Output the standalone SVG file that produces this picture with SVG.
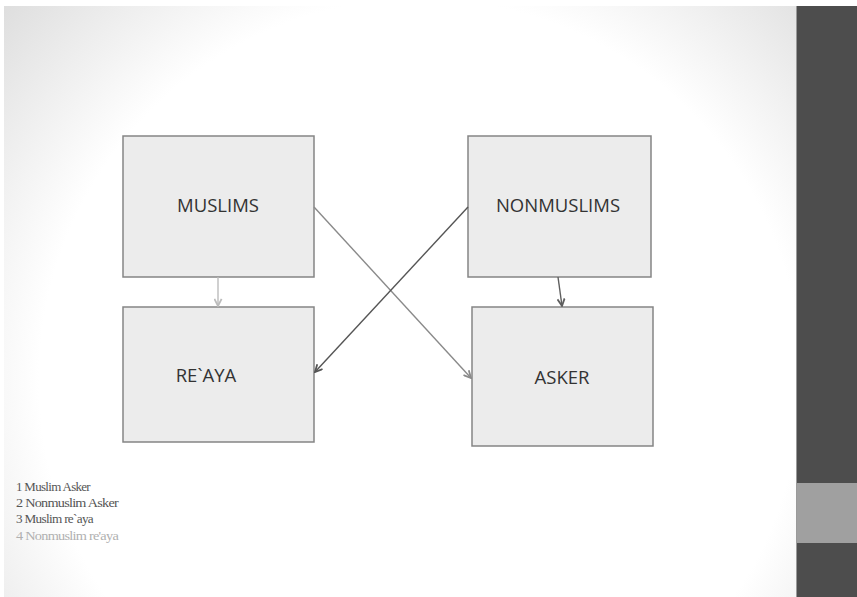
<svg xmlns="http://www.w3.org/2000/svg" width="857" height="597" viewBox="0 0 857 597">
<defs>
<radialGradient id="bg" cx="420" cy="380" r="560" gradientUnits="userSpaceOnUse">
<stop offset="0" stop-color="#ffffff"/>
<stop offset="0.68" stop-color="#ffffff"/>
<stop offset="1" stop-color="#dedede"/>
</radialGradient>
<marker id="ah" viewBox="0 0 10 10" refX="9" refY="5" markerWidth="9" markerHeight="9" markerUnits="userSpaceOnUse" orient="auto">
<path d="M1,1 L9,5 L1,9" fill="none" stroke="context-stroke" stroke-width="2"/>
</marker>
</defs>
<style>
.box{fill:#ececec;stroke:#858585;stroke-width:1.5}
.lbl{font-family:"Open Sans","Liberation Sans",sans-serif;font-size:18.5px;fill:#333;text-anchor:middle}
.leg{font-family:"Liberation Serif",serif;font-size:11.5px;fill:#555;letter-spacing:-0.6px}
.c{fill:none;stroke-width:1.4;marker-end:url(#ah)}
</style>
<rect x="0" y="0" width="857" height="597" fill="#ffffff"/>
<rect x="4" y="6" width="792" height="591" fill="url(#bg)"/>
<rect x="796" y="6" width="61" height="591" fill="#4d4d4d"/>
<rect x="796" y="483" width="61" height="60" fill="#a0a0a0"/>
<line x1="796.5" y1="6" x2="796.5" y2="597" stroke="#9a9a9a" stroke-width="1"/>
<g id="muslims"><rect class="box" x="123" y="136" width="191" height="141"/><text class="lbl" x="218" y="212">MUSLIMS</text></g>
<g id="nonmuslims"><rect class="box" x="468" y="136" width="183" height="141"/><text class="lbl" x="558" y="212">NONMUSLIMS</text></g>
<g id="reaya"><rect class="box" x="123" y="307" width="191" height="135"/><text class="lbl" x="206" y="382">RE`AYA</text></g>
<g id="asker"><rect class="box" x="472" y="307" width="181" height="139"/><text class="lbl" x="562" y="384">ASKER</text></g>
<g id="connectors">
<line class="c" x1="218" y1="277" x2="218" y2="306" stroke="#bcbcbc"/>
<line class="c" x1="558" y1="277" x2="562" y2="306" stroke="#5e5e5e"/>
<line class="c" x1="314" y1="207" x2="471" y2="378" stroke="#8a8a8a"/>
<line class="c" x1="468" y1="207" x2="315" y2="372" stroke="#555555"/>
</g>
<g id="legend">
<text class="leg" x="16" y="491" textLength="74" lengthAdjust="spacingAndGlyphs">1 Muslim  Asker</text>
<text class="leg" x="16" y="507" textLength="102" lengthAdjust="spacingAndGlyphs">2 Nonmuslim   Asker</text>
<text class="leg" x="16" y="523" textLength="77" lengthAdjust="spacingAndGlyphs">3 Muslim  re`aya</text>
<text class="leg" x="16" y="540" textLength="102" lengthAdjust="spacingAndGlyphs" style="fill:#b0b0b0">4 Nonmuslim   re'aya</text>
</g>
</svg>
